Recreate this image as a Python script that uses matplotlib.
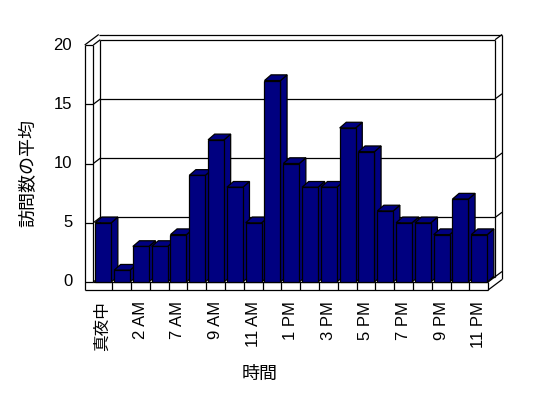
import matplotlib
matplotlib.use("Agg")
import matplotlib.pyplot as plt
from matplotlib.patches import Polygon

plt.rcParams['font.family'] = ['Liberation Sans', 'Noto Sans CJK JP', 'DejaVu Sans']

# ---- data ----
categories = ['真夜中', '1 AM', '2 AM', '6 AM', '7 AM', '8 AM', '9 AM', '10 AM', '11 AM',
              '正午', '1 PM', '2 PM', '3 PM', '4 PM', '5 PM', '6 PM', '7 PM', '8 PM',
              '9 PM', '10 PM', '11 PM']
visits = [5, 1, 3, 3, 4, 9, 12, 8, 5, 17, 10, 8, 8, 13, 11, 6, 5, 5, 4, 7, 4]
y_ticks = [0, 5, 10, 15, 20]
y_label = '訪問数の平均'
x_label = '時間'

# ---- geometry (data units) ----
N = len(categories)
YMAX = 20
W = 0.457      # left wall thickness (category units)
F = 0.675      # floor thickness (value units)
d1 = (0.372, 0.447)   # depth offset to back wall
d2 = (0.745, 0.886)   # depth offset incl. back wall thickness
bdx, bdy = 0.35, 0.48 # bar depth
bl, bw = 0.106, 0.851 # bar left inset and width

NAVY = '#000080'
LW = 0.9

fig = plt.figure(figsize=(5.48, 3.98), dpi=100)
ax = fig.add_axes([0, 0, 1, 1])
ax.set_xlim(-93.3 / 18.8, (548 - 93.3) / 18.8)
ax.set_ylim((282 - 398) / 11.85, 282 / 11.85)
ax.axis('off')

def line(xs, ys, z=1):
    ax.plot(xs, ys, color='black', lw=LW, zorder=z, solid_capstyle='butt')

# back wall gridlines and edges
for v in y_ticks:
    line([d1[0], N + d1[0]], [v + d1[1], v + d1[1]])
    line([0, d1[0]], [v, v + d1[1]])
    line([N + d1[0], N + d2[0]], [v + d1[1], v + d2[1]])
    line([-W, 0], [v, v])
line([d1[0], d1[0]], [d1[1], YMAX + d1[1]])
line([N + d1[0], N + d1[0]], [d1[1], YMAX + d1[1]])
line([-W + d2[0], N + d2[0]], [YMAX + d2[1], YMAX + d2[1]])
line([N + d2[0], N + d2[0]], [-F + d2[1], YMAX + d2[1]])
line([-W, -W + d2[0]], [YMAX, YMAX + d2[1]])
line([N, N + d2[0]], [-F, -F + d2[1]])
line([N, N + d1[0]], [0, d1[1]])
line([-W, -W], [-F, YMAX])
line([0, 0], [0, YMAX])
line([-W, N], [-F, -F])
line([0, N], [0, 0])
line([N, N], [-F, 0])
for i in range(1, N):
    line([i, i], [-F, 0])

# bars
for i, v in enumerate(visits):
    x0 = i + bl
    x1 = x0 + bw
    z = 3 + i * 0.01
    front = Polygon([(x0, 0), (x1, 0), (x1, v), (x0, v)], closed=True,
                    facecolor=NAVY, edgecolor='black', lw=LW, zorder=z)
    side = Polygon([(x1, 0), (x1 + bdx, bdy), (x1 + bdx, v + bdy), (x1, v)], closed=True,
                   facecolor=NAVY, edgecolor='black', lw=LW, zorder=z)
    top = Polygon([(x0, v), (x1, v), (x1 + bdx, v + bdy), (x0 + bdx, v + bdy)], closed=True,
                  facecolor=NAVY, edgecolor='black', lw=LW, zorder=z)
    for p in (side, top, front):
        ax.add_patch(p)

for v in y_ticks:
    ax.annotate(str(v), xy=(-W, v), xytext=(-9, 0), textcoords='offset points',
                ha='right', va='center', fontsize=12)

for i, lab in enumerate(categories):
    if i % 2 == 0:
        ax.annotate(lab, xy=(i + 0.5, -F), xytext=(0, -8), textcoords='offset points',
                    ha='center', va='top', rotation=90, fontsize=12)

fig.text(29 / 548, 1 - 173 / 398, y_label, rotation=90, ha='center', va='center', fontsize=13)
fig.text(260 / 548, 1 - 374 / 398, x_label, ha='center', va='center', fontsize=13)

fig.savefig('out.png', dpi=100)
